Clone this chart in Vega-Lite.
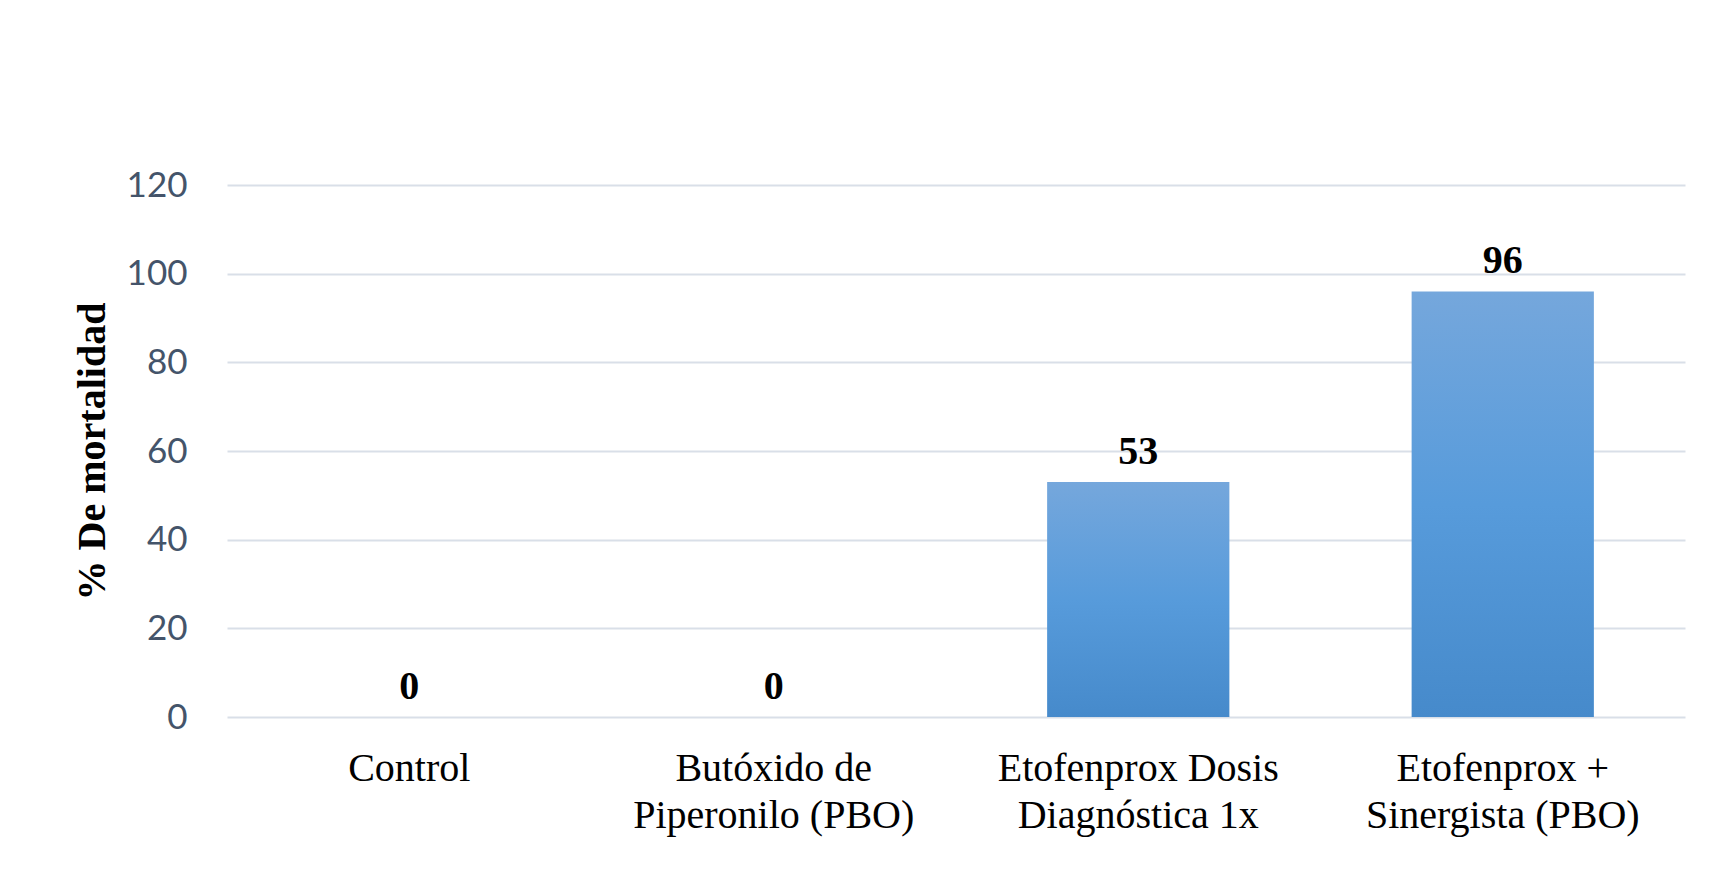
{
  "$schema": "https://vega.github.io/schema/vega-lite/v6.json",
  "autosize": {"type": "none"},
  "width": 1458,
  "height": 532,
  "padding": {"left": 227, "top": 185, "right": 25, "bottom": 152},
  "background": "white",
  "config": {"view": {"stroke": null}},
  "data": {
    "values": [
      {"grupo": "Control", "mortalidad": 0},
      {"grupo": "Butóxido de Piperonilo (PBO)", "mortalidad": 0},
      {"grupo": "Etofenprox Dosis Diagnóstica 1x", "mortalidad": 53},
      {"grupo": "Etofenprox + Sinergista (PBO)", "mortalidad": 96}
    ]
  },
  "encoding": {
    "x": {
      "field": "grupo",
      "type": "nominal",
      "sort": null,
      "scale": {"paddingInner": 0.5, "paddingOuter": 0.25},
      "axis": {
        "title": null,
        "labelAngle": 0,
        "domain": false,
        "ticks": false,
        "tickSize": 0,
        "labelPadding": 31,
        "labelLimit": 0,
        "labelFont": "Liberation Serif",
        "labelFontSize": 40,
        "labelColor": "#000000",
        "labelLineHeight": 47,
        "labelBaseline": "top",
        "labelExpr": "datum.value == 'Butóxido de Piperonilo (PBO)' ? ['Butóxido de', 'Piperonilo (PBO)'] : datum.value == 'Etofenprox Dosis Diagnóstica 1x' ? ['Etofenprox Dosis', 'Diagnóstica 1x'] : datum.value == 'Etofenprox + Sinergista (PBO)' ? ['Etofenprox +', 'Sinergista (PBO)'] : datum.value"
      }
    },
    "y": {
      "field": "mortalidad",
      "type": "quantitative",
      "scale": {"domain": [0, 120], "nice": false},
      "axis": {
        "title": "% De mortalidad",
        "titleFont": "Liberation Serif",
        "titleFontSize": 40,
        "titleFontWeight": "bold",
        "titleColor": "#000000",
        "titleX": -123,
        "titleBaseline": "alphabetic",
        "values": [0, 20, 40, 60, 80, 100, 120],
        "domain": false,
        "ticks": false,
        "tickSize": 0,
        "labelPadding": 40,
        "labelFont": "Lato",
        "labelFontSize": 35,
        "labelColor": "#44546A",
        "grid": true,
        "gridColor": "#D9DFE8",
        "gridWidth": 2
      }
    }
  },
  "layer": [
    {
      "mark": {
        "type": "bar",
        "color": {
          "gradient": "linear",
          "x1": 0, "y1": 0, "x2": 0, "y2": 1,
          "stops": [
            {"offset": 0, "color": "#75A7DC"},
            {"offset": 0.5, "color": "#579BDB"},
            {"offset": 1, "color": "#468ACB"}
          ]
        }
      }
    },
    {
      "mark": {
        "type": "text",
        "baseline": "alphabetic",
        "dy": -18,
        "font": "Liberation Serif",
        "fontSize": 40,
        "fontWeight": "bold",
        "color": "#000000"
      },
      "encoding": {"text": {"field": "mortalidad", "type": "quantitative"}}
    }
  ]
}
